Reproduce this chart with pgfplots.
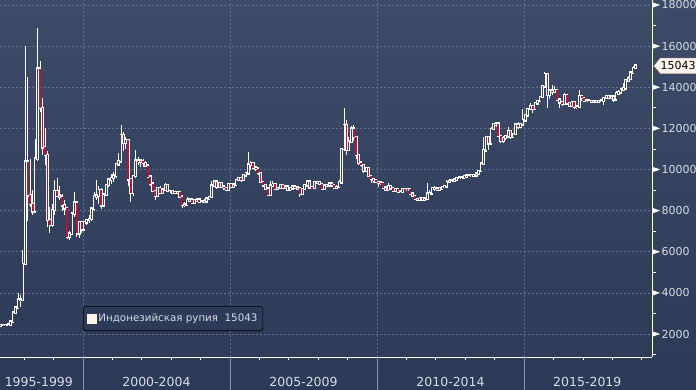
\documentclass[border=0pt]{standalone}
\usepackage{fontspec}
\setmainfont{DejaVu Sans}
\usepackage{pgfplots}
\usepackage{pgfplotstable}
\pgfplotsset{compat=1.18}
\definecolor{bgtop}{RGB}{61,75,104}
\definecolor{bgbot}{RGB}{44,57,87}
\definecolor{gridc}{RGB}{98,114,145}
\definecolor{candred}{RGB}{185,20,56}
\definecolor{cream}{RGB}{255,244,235}
\definecolor{labc}{RGB}{214,219,228}
\definecolor{sepc}{RGB}{140,150,170}
\definecolor{hollow}{RGB}{55,68,97}
\definecolor{legbg}{RGB}{46,59,88}

\pgfplotstableread{
x o h l c
1997.208 2400 2440 2390 2430
1997.292 2430 2450 2420 2440
1997.375 2440 2455 2425 2445
1997.458 2445 2460 2430 2450
1997.542 2450 2680 2430 2600
1997.625 2600 3100 2580 3035
1997.708 3035 3300 2950 3275
1997.792 3275 4000 3250 3670
1997.875 3670 3900 3300 3648
1997.958 3648 6100 3640 5400
1998.042 5400 16000 5400 10375
1998.125 10375 14500 7500 8750
1998.208 8750 10500 8200 8325
1998.292 8325 9000 7800 7970
1998.375 7970 11500 7900 10525
1998.458 10525 16900 10400 14900
1998.542 14900 15300 12800 13000
1998.625 13000 13500 10700 11075
1998.708 11075 12000 10200 10700
1998.792 10700 10900 7200 7550
1998.875 7550 8200 6900 7300
1998.958 7300 8300 7200 8025
1999.042 8025 9500 7800 8950
1999.125 8950 9600 8700 8730
1999.208 8730 9200 8500 8685
1999.292 8685 8800 8000 8260
1999.375 8260 8500 7800 8105
1999.458 8105 8200 6600 6726
1999.542 6726 7000 6550 6875
1999.625 6875 7900 6800 7850
1999.708 7850 8900 7700 8386
1999.792 8386 8450 6700 6900
1999.875 6900 7450 6650 7425
1999.958 7425 7450 6900 7085
2000.042 7085 7500 7000 7425
2000.125 7425 7600 7300 7550
2000.208 7550 7800 7400 7590
2000.292 7590 8150 7500 8100
2000.375 8100 8900 8000 8700
2000.458 8700 9500 8500 8735
2000.542 8735 9200 8300 9000
2000.625 9000 9100 8100 8250
2000.708 8250 8800 8200 8780
2000.792 8780 9300 8700 9250
2000.875 9250 9600 9150 9500
2000.958 9500 9800 9300 9595
2001.042 9595 9900 9400 9700
2001.125 9700 10300 9600 10250
2001.208 10250 10800 10200 10400
2001.292 10400 12160 10350 11675
2001.375 11675 11800 10900 11300
2001.458 11300 11600 11000 11440
2001.542 11440 11500 9200 9525
2001.625 9525 9600 8400 8865
2001.708 8865 9700 8700 9675
2001.792 9675 10950 9600 10435
2001.875 10435 10600 10200 10430
2001.958 10430 10500 10100 10400
2002.042 10400 10500 10100 10320
2002.125 10320 10400 10100 10190
2002.208 10190 10200 9600 9655
2002.292 9655 9700 9200 9315
2002.375 9315 9350 8900 8950
2002.458 8950 9000 8500 8730
2002.542 8730 9150 8700 9110
2002.625 9110 9200 8850 8875
2002.708 8875 9100 8850 9015
2002.792 9015 9350 8950 9235
2002.875 9235 9250 8900 8945
2002.958 8945 9000 8850 8950
2003.042 8950 9000 8850 8890
2003.125 8890 8950 8800 8885
2003.208 8885 8950 8800 8908
2003.292 8908 8920 8600 8675
2003.375 8675 8700 8150 8280
2003.458 8280 8400 8200 8285
2003.542 8285 8650 8250 8505
2003.625 8505 8600 8450 8530
2003.708 8530 8550 8350 8389
2003.792 8389 8550 8350 8495
2003.875 8495 8550 8400 8537
2003.958 8537 8550 8400 8420
2004.042 8420 8500 8350 8441
2004.125 8441 8550 8400 8447
2004.208 8447 8650 8400 8587
2004.292 8587 8700 8550 8661
2004.375 8661 9450 8650 9210
2004.458 9210 9500 9150 9415
2004.542 9415 9450 9050 9168
2004.625 9168 9400 9150 9330
2004.708 9330 9350 9100 9170
2004.792 9170 9200 9000 9090
2004.875 9090 9150 8950 9018
2004.958 9018 9350 9000 9290
2005.042 9290 9350 9100 9165
2005.125 9165 9300 9150 9260
2005.208 9260 9500 9250 9480
2005.292 9480 9600 9450 9570
2005.375 9570 9650 9400 9495
2005.458 9495 9800 9450 9713
2005.542 9713 9850 9650 9819
2005.625 9819 10850 9800 10240
2005.708 10240 10400 10000 10310
2005.792 10310 10350 10050 10090
2005.875 10090 10150 9950 10035
2005.958 10035 10100 9750 9830
2006.042 9830 9850 9350 9395
2006.125 9395 9400 9150 9230
2006.208 9230 9250 9050 9075
2006.292 9075 9100 8720 8775
2006.375 8775 9450 8750 9220
2006.458 9220 9450 9150 9300
2006.542 9300 9350 9050 9070
2006.625 9070 9150 9050 9100
2006.708 9100 9250 9100 9235
2006.792 9235 9250 9100 9110
2006.875 9110 9200 9100 9165
2006.958 9165 9200 8950 9020
2007.042 9020 9150 9000 9090
2007.125 9090 9200 9050 9160
2007.208 9160 9250 9100 9118
2007.292 9118 9130 9050 9083
2007.375 9083 9100 8680 8815
2007.458 8815 9100 8800 9054
2007.542 9054 9300 9050 9230
2007.625 9230 9450 9200 9410
2007.708 9410 9450 9100 9137
2007.792 9137 9200 9050 9103
2007.875 9103 9400 9100 9376
2007.958 9376 9450 9300 9393
2008.042 9393 9450 9250 9291
2008.125 9291 9300 9050 9051
2008.208 9051 9250 9050 9217
2008.292 9217 9300 9150 9234
2008.375 9234 9350 9200 9318
2008.458 9318 9350 9200 9225
2008.542 9225 9250 9050 9118
2008.625 9118 9250 9100 9153
2008.708 9153 9500 9150 9378
2008.792 9378 11000 9350 10995
2008.875 10995 12990 10900 12150
2008.958 12150 12400 10700 10950
2009.042 10950 11600 10900 11355
2009.125 11355 12100 11300 11980
2009.208 11980 12160 11400 11575
2009.292 11575 11600 10500 10713
2009.375 10713 10750 10200 10340
2009.458 10340 10400 10100 10225
2009.542 10225 10250 9850 9920
2009.625 9920 10100 9900 10060
2009.708 10060 10100 9650 9681
2009.792 9681 9700 9350 9545
2009.875 9545 9600 9350 9480
2009.958 9480 9550 9350 9400
2010.042 9400 9450 9150 9365
2010.125 9365 9400 9250 9335
2010.208 9335 9350 9100 9115
2010.292 9115 9150 8950 9012
2010.375 9012 9350 9000 9180
2010.458 9180 9250 9050 9083
2010.542 9083 9100 8950 8952
2010.625 8952 9050 8950 9041
2010.708 9041 9050 8900 8924
2010.792 8924 8950 8880 8930
2010.875 8930 9100 8920 9035
2010.958 9035 9050 8950 8996
2011.042 8996 9100 8980 9050
2011.125 9050 9060 8800 8823
2011.208 8823 8850 8700 8709
2011.292 8709 8720 8560 8574
2011.375 8574 8600 8520 8537
2011.458 8537 8620 8500 8597
2011.542 8597 8600 8480 8508
2011.625 8508 8600 8450 8578
2011.708 8578 9330 8550 8823
2011.792 8823 9000 8750 8835
2011.875 8835 9150 8800 9085
2011.958 9085 9200 8950 9068
2012.042 9068 9150 8950 9000
2012.125 9000 9150 8950 9085
2012.208 9085 9200 9050 9146
2012.292 9146 9250 9140 9180
2012.375 9180 9500 9170 9400
2012.458 9400 9550 9350 9433
2012.542 9433 9500 9400 9455
2012.625 9455 9550 9430 9500
2012.708 9500 9620 9480 9580
2012.792 9580 9630 9560 9605
2012.875 9605 9640 9570 9608
2012.958 9608 9730 9600 9670
2013.042 9670 9750 9630 9698
2013.125 9698 9730 9630 9680
2013.208 9680 9750 9650 9719
2013.292 9719 9750 9700 9722
2013.375 9722 9850 9700 9793
2013.458 9793 9950 9780 9929
2013.542 9929 10300 9920 10278
2013.625 10278 11600 10250 10924
2013.708 10924 11600 10900 11580
2013.792 11580 11600 10950 11270
2013.875 11270 12050 11250 11960
2013.958 11960 12260 11900 12189
2014.042 12189 12300 12050 12226
2014.125 12226 12250 11600 11634
2014.208 11634 11700 11300 11404
2014.292 11404 11650 11300 11532
2014.375 11532 11700 11450 11611
2014.458 11611 12050 11600 11855
2014.542 11855 11900 11500 11591
2014.625 11591 11750 11550 11717
2014.708 11717 12200 11700 12185
2014.792 12185 12300 11950 12082
2014.875 12082 12250 12050 12198
2014.958 12198 12950 12150 12385
2015.042 12385 12700 12350 12628
2015.125 12628 13000 12600 12935
2015.208 12935 13250 12900 13074
2015.292 13074 13100 12750 12951
2015.375 12951 13250 12950 13217
2015.458 13217 13400 13200 13330
2015.542 13330 13550 13300 13535
2015.625 13535 14100 13500 14050
2015.708 14050 14730 14050 14650
2015.792 14650 14700 13000 13640
2015.875 13640 13900 13450 13835
2015.958 13835 14100 13600 13795
2016.042 13795 14050 13750 13846
2016.125 13846 13900 13350 13395
2016.208 13395 13400 13000 13260
2016.292 13260 13300 13100 13180
2016.375 13180 13700 13150 13615
2016.458 13615 13650 13200 13210
2016.542 13210 13250 13050 13094
2016.625 13094 13300 13050 13270
2016.708 13270 13300 12930 13051
2016.792 13051 13100 12950 13046
2016.875 13046 13870 13020 13563
2016.958 13563 13600 13350 13473
2017.042 13473 13500 13300 13343
2017.125 13343 13400 13300 13345
2017.208 13345 13400 13300 13326
2017.292 13326 13350 13250 13321
2017.375 13321 13400 13250 13322
2017.458 13322 13360 13250 13319
2017.542 13319 13400 13300 13323
2017.625 13323 13400 13280 13345
2017.708 13345 13500 13150 13472
2017.792 13472 13600 13450 13572
2017.875 13572 13600 13500 13514
2017.958 13514 13580 13450 13548
2018.042 13548 13600 13280 13413
2018.125 13413 13800 13350 13707
2018.208 13707 13850 13650 13756
2018.292 13756 13900 13750 13877
2018.375 13877 14200 13850 13951
2018.458 13951 14400 13880 14330
2018.542 14330 14530 14300 14413
2018.625 14413 14750 14400 14710
2018.708 14710 15043 14700 14929
2018.792 14929 15100 14900 15043
}\idr

\begin{document}
\begin{tikzpicture}
\shade[top color=bgtop, bottom color=bgbot] (0pt,-33pt) rectangle (696pt,357pt);
\begin{axis}[
  at={(0pt,0pt)}, anchor=south west,
  scale only axis, width=652pt, height=357pt,
  xmin=1997.18, xmax=2019.35, ymin=882, ymax=18243,
  clip=false,
  axis x line*=bottom, axis y line*=right,
  axis line style={white, line width=0.8pt},
  xtick={2000,2005,2010,2015}, xticklabels={},
  minor xtick={1998,1999,2001,2002,2003,2004,2006,2007,2008,2009,2011,2012,2013,2014,2016,2017,2018,2019},
  ytick={2000,4000,...,18000},
  minor ytick={1000,3000,...,17000},
  tick align=outside, major tick length=0pt, minor tick length=3.5pt,
  minor tick style={white, line width=0.7pt},
  grid=major,
  major grid style={gridc, dash pattern=on 2pt off 2pt, line width=0.6pt},
  scaled y ticks=false,
  yticklabel={\tikz[baseline={(0pt,-4pt)}]{\fill[white] (0pt,2.6pt)--(7.5pt,0pt)--(0pt,-2.6pt)--cycle;}\hspace{1.5pt}\pgfmathprintnumber[fixed,precision=0,1000 sep={},assume math mode=true]{\tick}},
  yticklabel style={anchor=west, inner sep=0pt, xshift=0.5pt, font=\fontsize{11}{13}\selectfont, text=labc},
  extra x ticks={1998.5,2002.5,2007.5,2012.5,2017.15},
  extra x tick labels={1995-1999,2000-2004,2005-2009,2010-2014,2015-2019},
  extra x tick style={grid=none, major tick length=0pt,
    tick label style={yshift=-16.5pt, font=\fontsize{12.5}{14}\selectfont, text=labc}},
  legend style={at={(rel axis cs:0.1273,0.0728)}, anchor=south west,
    fill=legbg, draw=black, rounded corners=2.5pt, line width=0.6pt,
    font=\fontsize{10.3}{12}\selectfont, text=labc, inner xsep=3.5pt, inner ysep=5.5pt},
  legend cell align=left,
]
% wicks
\addplot[forget plot, draw=none, mark=none,
  error bars/.cd, y dir=both, y explicit, error mark=none,
  error bar style={draw=white, line width=0.8pt}]
  table[x=x, y expr={(\thisrow{h}+\thisrow{l})/2}, y error expr={(\thisrow{h}-\thisrow{l})/2}] {\idr};
% body outline
\addplot[forget plot, draw=none, mark=none,
  error bars/.cd, y dir=both, y explicit, error mark=none,
  error bar style={draw=white, line width=2.6pt, line cap=rect}]
  table[x=x, y expr={(\thisrow{o}+\thisrow{c})/2}, y error expr={abs(\thisrow{c}-\thisrow{o})/2}] {\idr};
% down bodies (red)
\addplot[forget plot, draw=none, mark=none,
  restrict expr to domain={\thisrow{o}-\thisrow{c}}{1:100000},
  error bars/.cd, y dir=both, y explicit, error mark=none,
  error bar style={draw=candred, line width=1.7pt}]
  table[x=x, y expr={(\thisrow{o}+\thisrow{c})/2}, y error expr={abs(\thisrow{c}-\thisrow{o})/2}] {\idr};
% up bodies (hollow)
\addplot[forget plot, draw=none, mark=none,
  restrict expr to domain={\thisrow{c}-\thisrow{o}}{1:100000},
  error bars/.cd, y dir=both, y explicit, error mark=none,
  error bar style={draw=hollow, line width=0.9pt}]
  table[x=x, y expr={(\thisrow{o}+\thisrow{c})/2}, y error expr={abs(\thisrow{c}-\thisrow{o})/2}] {\idr};
\addlegendimage{legend image code/.code={\fill[cream, sharp corners] (0pt,-4.5pt) rectangle (9pt,4.5pt);}}
\addlegendentry{Индонезийская рупия\ \ 15043}
% separators in the label band
\draw[sepc, line width=0.8pt] (axis cs:2000,882) -- ++(0pt,-40pt);
\draw[sepc, line width=0.8pt] (axis cs:2005,882) -- ++(0pt,-40pt);
\draw[sepc, line width=0.8pt] (axis cs:2010,882) -- ++(0pt,-40pt);
\draw[sepc, line width=0.8pt] (axis cs:2015,882) -- ++(0pt,-40pt);
% last value tag
\coordinate (tag) at (axis cs:2019.35,15043);
\filldraw[fill=cream, draw=black!75, line width=0.5pt] ([xshift=1.5pt]tag) -- ++(6.5pt,8pt) -- ++(45pt,0pt) -- ++(0pt,-16pt) -- ++(-45pt,0pt) -- cycle;
\node[anchor=west, inner sep=0pt, text=black, font=\fontsize{11}{13}\selectfont] at ([xshift=8.5pt]tag) {15043};
\end{axis}
\pgfresetboundingbox
\path[use as bounding box] (0pt,-33pt) rectangle (696pt,357pt);
\end{tikzpicture}
\end{document}
